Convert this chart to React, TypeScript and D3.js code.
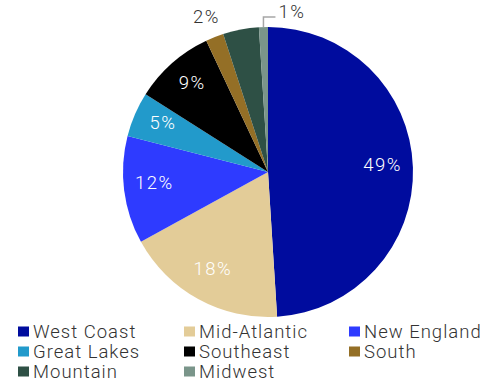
import React from "react";
import * as d3 from "d3";

const categories = ["West Coast", "Mid-Atlantic", "New England", "Great Lakes", "Southeast", "South", "Mountain", "Midwest"];
const values = [49, 18, 12, 5, 9, 2, 4, 1];
const colors = ["#000C9E", "#E3CC98", "#2E3BFF", "#229ACB", "#000000", "#946F26", "#2E5045", "#7A958A"];
const showLabel = [true, true, true, true, true, true, false, true];

const W = 485, H = 383;
const cx = 268, cy = 172, R = 145;

export default function App() {
  const pie = d3.pie<number>().value((d) => d).sort(null);
  const arcs = pie(values);
  const arc = d3.arc<d3.PieArcDatum<number>>().innerRadius(0).outerRadius(R);
  const labelArc = d3.arc<d3.PieArcDatum<number>>().innerRadius(R * 0.79).outerRadius(R * 0.79);
  const font = "Roboto, 'Liberation Sans', Arial, sans-serif";
  const fw = 300;

  const legendCols = [18, 184, 349];
  const legendRows = [331.5, 351.5, 371.5];

  return (
    <svg width={W} height={H} style={{ position: "absolute", left: 0, top: 0 }}>
      <rect width={W} height={H} fill="#fff" />
      <g transform={`translate(${cx},${cy})`}>
        {arcs.map((a, i) => (
          <path key={i} d={arc(a) || ""} fill={colors[i]} stroke="none" />
        ))}
        {arcs.map((a, i) => {
          if (!showLabel[i] || values[i] < 5) return null;
          const [x, y] = labelArc.centroid(a);
          return (
            <text key={i} x={x} y={y - 4} dy="0.36em" textAnchor="middle" fill="#fff"
              style={{ fontFamily: font, fontWeight: fw, fontSize: 18.5, letterSpacing: 1.5 }}>{`${values[i]}%`}</text>
          );
        })}
      </g>
      {(() => {
        const south = arcs[5];
        const mid = arcs[7];
        const ang = (mid.startAngle + mid.endAngle) / 2;
        const ex = cx + R * Math.sin(ang);
        const ey = cy - R * Math.cos(ang);
        const sAng = (south.startAngle + south.endAngle) / 2;
        const sx = cx + (R + 22) * Math.sin(sAng);
        const sy = cy - (R + 22) * Math.cos(sAng);
        return (
          <g>
            <text x={sx} y={sy} dy="0.36em" textAnchor="middle" fill="#333"
              style={{ fontFamily: font, fontWeight: fw, fontSize: 18.5, letterSpacing: 1.5 }}>{`${values[5]}%`}</text>
            <polyline points={`${ex},${ey} ${ex},${17} ${ex + 12},${17}`} fill="none" stroke="#A6A6A6" strokeWidth={1.5} />
            <text x={ex + 15} y={11.5} dy="0.36em" textAnchor="start" fill="#333"
              style={{ fontFamily: font, fontWeight: fw, fontSize: 18.5, letterSpacing: 1.5 }}>{`${values[7]}%`}</text>
          </g>
        );
      })()}
      {categories.map((c, i) => {
        const x = legendCols[i % 3];
        const y = legendRows[Math.floor(i / 3)];
        return (
          <g key={c}>
            <rect x={x} y={y - 5} width={11} height={10} fill={colors[i]} />
            <text x={x + 15} y={y} dy="0.36em" fill="#333"
              style={{ fontFamily: font, fontWeight: fw, fontSize: 18.5, letterSpacing: 1 }}>{c}</text>
          </g>
        );
      })}
    </svg>
  );
}
